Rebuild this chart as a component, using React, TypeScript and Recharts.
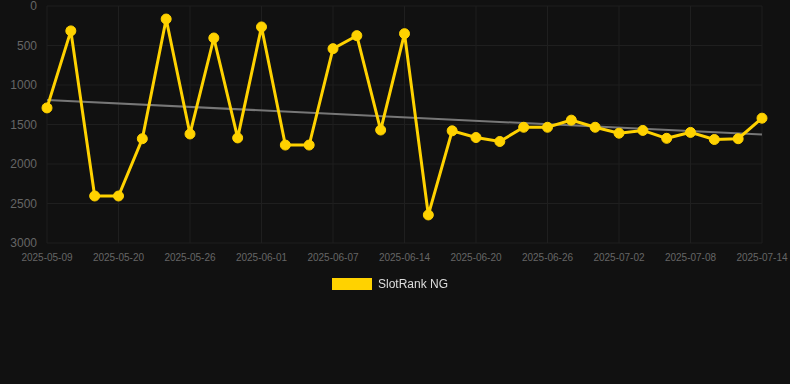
import React from "react";
import { LineChart, Line, XAxis, YAxis, CartesianGrid, Legend } from "recharts";

const dates = [
  "2025-05-09", "2025-05-12", "2025-05-16", "2025-05-20", "2025-05-22", "2025-05-24",
  "2025-05-26", "2025-05-28", "2025-05-30", "2025-06-01", "2025-06-03", "2025-06-05",
  "2025-06-07", "2025-06-09", "2025-06-11", "2025-06-14", "2025-06-16", "2025-06-18",
  "2025-06-20", "2025-06-22", "2025-06-24", "2025-06-26", "2025-06-28", "2025-06-30",
  "2025-07-02", "2025-07-04", "2025-07-06", "2025-07-08", "2025-07-10", "2025-07-12",
  "2025-07-14",
];

const rankValues = [
  1290, 315, 2405, 2405, 1680, 165, 1620, 405, 1670, 265, 1760, 1760, 540, 375, 1570, 350,
  2645, 1580, 1665, 1715, 1535, 1535, 1445, 1535, 1610, 1575, 1675, 1600, 1690, 1680, 1420,
];

const trendValues: (number | null)[] = dates.map(() => null);
trendValues[0] = 1190;
trendValues[dates.length - 1] = 1628;

const yTicks = [0, 500, 1000, 1500, 2000, 2500, 3000];

const data = dates.map((d, i) => ({ date: d, rank: rankValues[i], trend: trendValues[i] }));

const LegendContent = () => (
  <div style={{ display: "flex", justifyContent: "center", alignItems: "center", fontFamily: "'Liberation Sans', Arial, sans-serif" }}>
    <div style={{ width: 40, height: 12, background: "#FFD200", marginRight: 6 }} />
    <span style={{ color: "#dddddd", fontSize: 12 }}>SlotRank NG</span>
  </div>
);

export default function App() {
  return (
    <div style={{ position: "fixed", left: 0, top: 0, width: 790, height: 384, background: "#111111" }}>
      <LineChart
        width={790}
        height={384}
        data={data}
        margin={{ top: 6, right: 28, bottom: 111, left: 7 }}
      >
        <CartesianGrid stroke="#1f1f1f" strokeWidth={1} />
        <XAxis
          dataKey="date"
          interval={2}
          tickLine={false}
          axisLine={false}
          tickSize={0}
          tickMargin={11}
          height={30}
          tick={{ fill: "#666666", fontSize: 10, fontFamily: "'Liberation Sans', Arial, sans-serif" }}
        />
        <YAxis
          reversed
          domain={[0, 3000]}
          ticks={yTicks}
          interval={0}
          width={40}
          tickLine={false}
          axisLine={false}
          tickSize={0}
          tickMargin={10}
          tick={{ fill: "#666666", fontSize: 12, fontFamily: "'Liberation Sans', Arial, sans-serif" }}
        />
        <Legend
          layout="horizontal"
          verticalAlign="middle"
          align="center"
          content={<LegendContent />}
          wrapperStyle={{ top: 277, left: -5, width: 790 }}
        />
        <Line
          dataKey="trend"
          stroke="#777777"
          strokeWidth={2}
          dot={false}
          connectNulls
          isAnimationActive={false}
          legendType="none"
        />
        <Line
          dataKey="rank"
          name="SlotRank NG"
          stroke="#FFD200"
          strokeWidth={3}
          dot={{ r: 5, fill: "#FFD200", stroke: "#FFD200", strokeWidth: 1 }}
          activeDot={false}
          isAnimationActive={false}
        />
      </LineChart>
    </div>
  );
}
